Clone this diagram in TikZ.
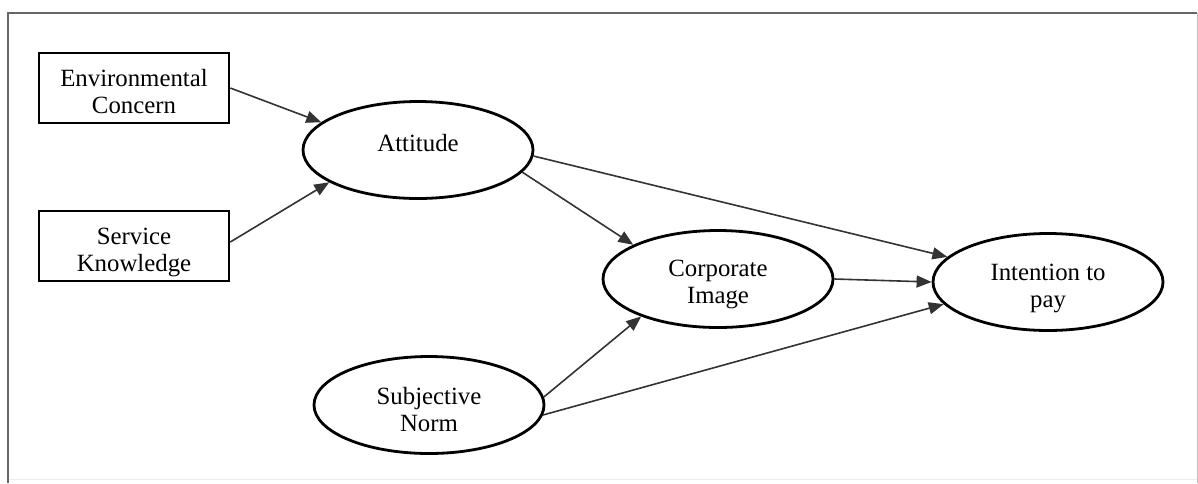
\documentclass[tikz,border=0pt]{standalone}
\usepackage{fontspec}
\setmainfont{Liberation Serif}
\usetikzlibrary{shapes.geometric,arrows.meta}
\begin{document}
\begin{tikzpicture}[x=1pt,y=-1pt,
  txt/.style={font=\fontsize{24.8}{27}\selectfont, align=center, inner sep=0pt},
  boxnode/.style={draw=black, line width=2.6pt, minimum width=190pt, minimum height=70pt, inner sep=0pt},
  ellnode/.style={draw=black, ellipse, line width=2.8pt, minimum width=230pt, minimum height=97pt, inner sep=0pt},
  conn/.style={draw=black!80, line width=1.6pt, -{Triangle[length=15pt,width=12pt]}}]
\useasboundingbox (0,0) rectangle (1198,483);
% frame
\draw[black!25, line width=1pt] (1197,13) -- (1197,483);
\draw[black!8, line width=1pt] (8,479) -- (1197,479);
\draw[black!60, line width=2.2pt] (8,483) -- (8,13) -- (1197,13);
% shapes
\node[boxnode] (env) at (134,88) {};
\node[boxnode] (serv) at (134,246) {};
\node[ellnode] (att) at (418,150) {};
\node[ellnode] (corp) at (718,279) {};
\node[ellnode] (int) at (1048,282) {};
\node[ellnode] (subj) at (429,405) {};
% texts
\node[txt] (envT) at (134,92) {Environmental\\Concern};
\node[txt] (servT) at (134,252) {Service\\Knowledge};
\node[txt] (attT) at (418,143) {Attitude};
\node[txt] (corpT) at (718,284) {Corporate\\Image};
\node[txt] (intT) at (1048,288) {Intention to\\pay};
\node[txt] (subjT) at (429,410) {Subjective\\Norm};
% connectors
\draw[conn] (env.east) -- (att.164);
\draw[conn] ([yshift=4pt]serv.east) -- (att.200);
\draw[conn] (att.357) -- (int.166);
\draw[conn] (att.348) -- (corp.158);
\draw[conn] (corp.east) -- (int.west);
\draw[conn] (subj.4) -- (corp.206);
\draw[conn] (subj.355) -- (int.192);
\end{tikzpicture}
\end{document}
